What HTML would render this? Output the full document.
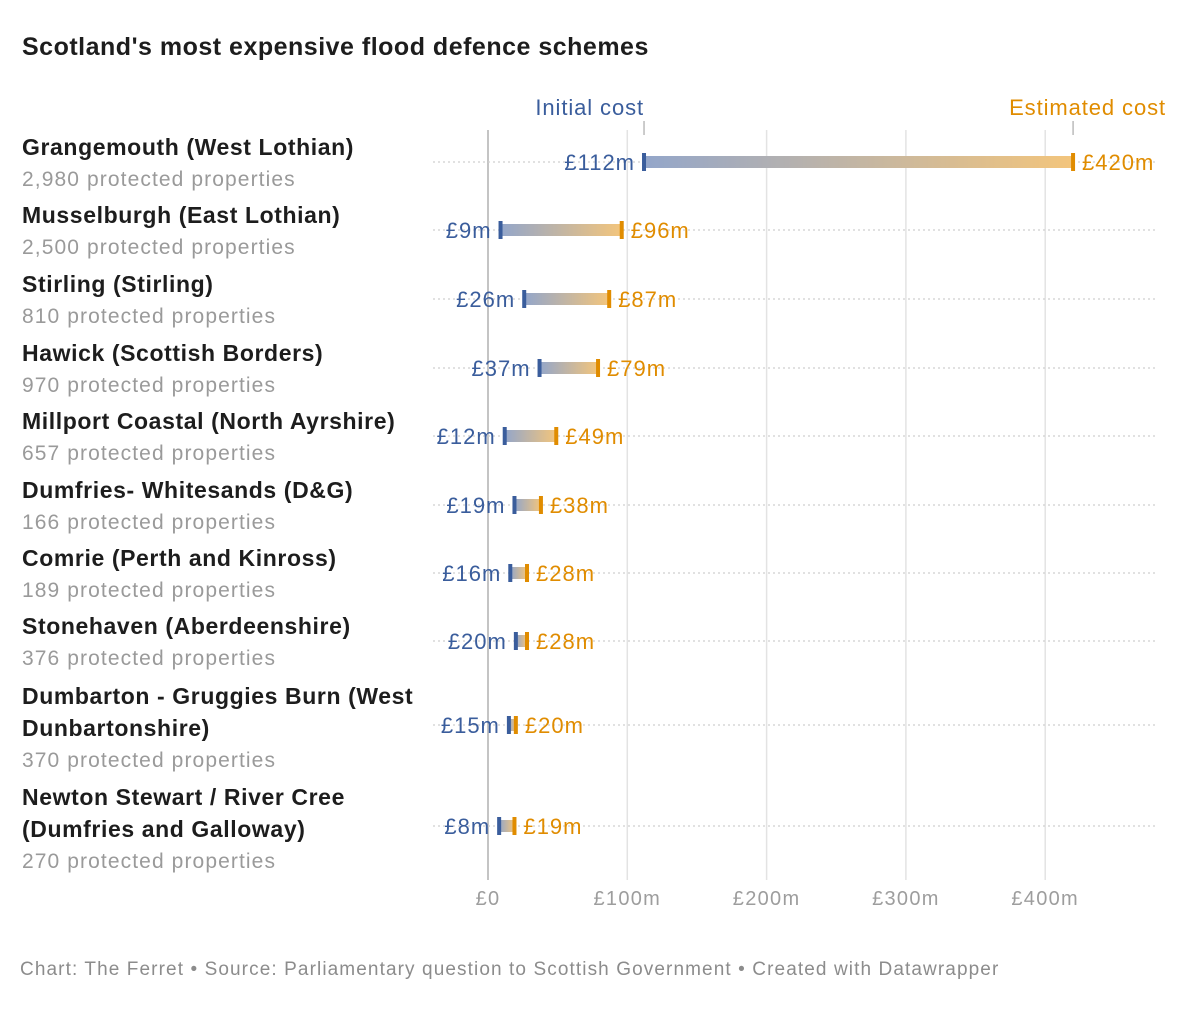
<!DOCTYPE html>
<html><head><meta charset="utf-8"><style>
body{margin:0;background:#fff;font-family:"Liberation Sans",sans-serif;}
svg text{font-family:"Liberation Sans",sans-serif;}
</style></head><body>
<svg id="c" width="1200" height="1004" xmlns="http://www.w3.org/2000/svg">
<defs><linearGradient id="g" x1="0" x2="1" y1="0" y2="0"><stop offset="0" stop-color="#93a6ca"/><stop offset="1" stop-color="#f3c57c"/></linearGradient></defs>
<text x="22" y="55" font-size="25" font-weight="bold" letter-spacing="0.5" fill="#1d1d1d">Scotland's most expensive flood defence schemes</text>
<text x="20" y="975" font-size="19" letter-spacing="1.1" fill="#8c8c8c">Chart: The Ferret • Source: Parliamentary question to Scottish Government • Created with Datawrapper</text>
</svg>
<script>
const names=[["Grangemouth (West Lothian)"],["Musselburgh (East Lothian)"],["Stirling (Stirling)"],["Hawick (Scottish Borders)"],["Millport Coastal (North Ayrshire)"],["Dumfries- Whitesands (D&G)"],["Comrie (Perth and Kinross)"],["Stonehaven (Aberdeenshire)"],["Dumbarton - Gruggies Burn (West","Dunbartonshire)"],["Newton Stewart / River Cree","(Dumfries and Galloway)"]];
const properties=["2,980","2,500","810","970","657","166","189","376","370","270"];
const initialCost=[112,9,26,37,12,19,16,20,15,8];
const estimatedCost=[420,96,87,79,49,38,28,28,20,19];
const ticks=[0,100,200,300,400];
const rowY=[162,230,299,368,436,505,573,641,725,826];
const svg=document.getElementById('c');const NS="http://www.w3.org/2000/svg";
const x=v=>488+v*1.393;
function el(t,a,txt){const e=document.createElementNS(NS,t);for(const k in a)e.setAttribute(k,a[k]);if(txt!==undefined)e.textContent=txt;svg.appendChild(e);return e;}
ticks.forEach((t,i)=>{
 const l=el('line',{x1:x(t),x2:x(t),y1:130,y2:880,stroke:i==0?'#c4c4c4':'#e3e3e3','stroke-width':i==0?2:1.5});
 
 
 const tx=el('text',{x:x(t),y:905,'font-size':20,'letter-spacing':1.3,fill:'#9d9d9d','text-anchor':'middle'},t==0?'£0':'£'+t+'m');
 
 
});
names.forEach((n,i)=>{
 const y=rowY[i];
 const dl=el('line',{x1:433,x2:1157,y1:y,y2:y,stroke:'#cfcfcf','stroke-width':1.2,'stroke-dasharray':'2 3'});
 
 
 const nl=n.length;const first=nl==1?y-7:y-21;
 n.forEach((s,j)=>{const t=el('text',{x:22,y:first+j*32,'font-size':23,'letter-spacing':0.6,'font-weight':'bold',fill:'#1d1d1d'},s);
  
  });
 const p=el('text',{x:22,y:first+(nl-1)*32+31,'font-size':21,'letter-spacing':1.1,fill:'#9a9a9a'},properties[i]+' protected properties');
 
 
 const a=x(initialCost[i]),b=x(estimatedCost[i]);
 const r=el('rect',{x:a,y:y-6,width:b-a,height:12,fill:'url(#g)'});
 
 
 const c1=el('rect',{x:a-2,y:y-9,width:4,height:18,fill:'#3a5d9c'});
 
 
 const c2=el('rect',{x:b-2,y:y-9,width:4,height:18,fill:'#e08c00'});
 
 
 const t1=el('text',{x:a-9,y:y+8,'font-size':22,'letter-spacing':1,fill:'#3a5d9c','text-anchor':'end'},'£'+initialCost[i]+'m');
 
 
 const t2=el('text',{x:b+9,y:y+8,'font-size':22,'letter-spacing':1,fill:'#e08c00'},'£'+estimatedCost[i]+'m');
 
 
});
const a0=x(initialCost[0]),b0=x(estimatedCost[0]);
const h1=el('text',{x:a0,y:115,'font-size':22,'letter-spacing':0.9,fill:'#3a5d9c','text-anchor':'end'},'Initial cost');


const h2=el('text',{x:1166,y:115,'font-size':22,'letter-spacing':0.9,fill:'#e08c00','text-anchor':'end'},'Estimated cost');


[a0,b0].forEach(v=>{const l=el('line',{x1:v,x2:v,y1:121,y2:135,stroke:'#999','stroke-width':1});
 
 });
</script>
</body></html>
